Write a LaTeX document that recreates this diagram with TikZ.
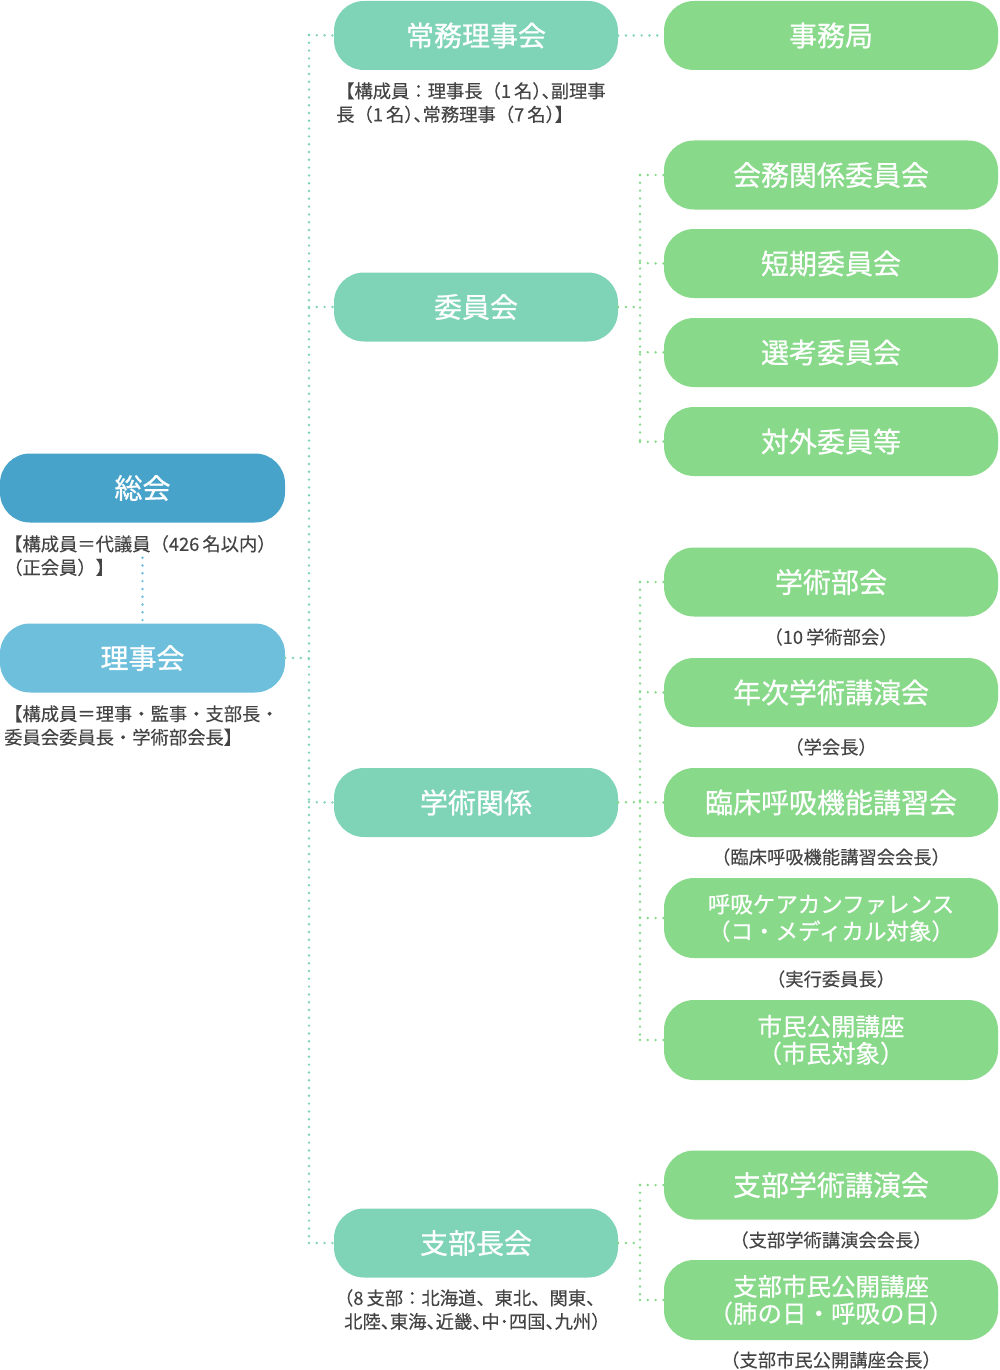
\documentclass[tikz,border=0pt]{standalone}
\usepackage{fontspec}
\setmainfont{Noto Sans CJK JP}
\newfontfamily\boxfont{Noto Sans CJK JP}[FakeBold=0.7]
\newfontfamily\capfont{Noto Sans CJK JP}[FakeBold=0.25]
\newfontfamily\capfonthalf{Noto Sans CJK JP}[FakeBold=0.25, RawFeature=+halt]
\newcommand{\hw}[1]{{\capfonthalf #1}}
\usetikzlibrary{calc}
\definecolor{csokai}{HTML}{47A3C9}
\definecolor{criji}{HTML}{6DBFDC}
\definecolor{cmid}{HTML}{7FD4B7}
\definecolor{cright}{HTML}{88D98A}
\definecolor{ctext}{HTML}{444444}
\tikzset{
  boxbase/.style={rounded corners=30pt, inner sep=0pt, minimum height=69pt, text=white, align=center, font=\boxfont\fontsize{28}{32}\selectfont},
  leftbox/.style={boxbase, minimum width=285pt},
  midbox/.style={boxbase, fill=cmid, minimum width=284pt},
  rightbox/.style={boxbase, fill=cright, minimum width=334pt},
  twoline/.style={minimum height=80pt, font=\boxfont\fontsize{24.5}{27}\selectfont},
  twolinek/.style={minimum height=80pt, font=\boxfont\fontsize{22.5}{27}\selectfont},
  caption/.style={text=ctext, inner sep=0pt, align=left, font=\capfont\fontsize{18.3}{23.5}\selectfont},
  ccaption/.style={text=ctext, inner sep=0pt, align=center, font=\capfont\fontsize{18.3}{23}\selectfont},
  dotline/.style={line width=2.7pt, line cap=round, dash pattern=on 0pt off 7.8pt},
  tealdot/.style={dotline, draw=cmid},
  greendot/.style={dotline, draw=cright},
  bluedot/.style={dotline, draw=criji},
}
\begin{document}
\begin{tikzpicture}[x=1pt,y=-1pt]
\useasboundingbox (0,0) rectangle (999,1370);
\coordinate (La) at (309,35);
\coordinate (Lb) at (309,307);
\coordinate (Lr) at (309,658);
\coordinate (Lc) at (309,802);
\coordinate (Ld) at (309,1243);
\coordinate (Ra1) at (640,175);
\coordinate (Ra2) at (640,263);
\coordinate (Ra3) at (640,352);
\coordinate (Ra4) at (640,442);
\coordinate (Ram) at (640,307);
\coordinate (Rb1) at (640,582);
\coordinate (Rb2) at (640,692);
\coordinate (Rb3) at (640,802);
\coordinate (Rb4) at (640,918);
\coordinate (Rb5) at (640,1040);
\coordinate (Rc1) at (640,1185);
\coordinate (Rcm) at (640,1243);
\coordinate (Rc2) at (640,1300);

% boxes
\node[leftbox, fill=csokai] (sokai) at (142.5,488) {総会};
\node[leftbox, fill=criji] (riji) at (142.5,658) {理事会};
\node[midbox] (jomu) at (476,35.5) {常務理事会};
\node[midbox] (iinkai) at (476,307) {委員会};
\node[midbox] (gakujutsu) at (476,802.5) {学術関係};
\node[midbox] (shibu) at (476,1243) {支部長会};

\node[rightbox] (jimu) at (831,35.5) {事務局};
\node[rightbox] (kaimu) at (831,175) {会務関係委員会};
\node[rightbox] (tanki) at (831,263.5) {短期委員会};
\node[rightbox] (senko) at (831,352.5) {選考委員会};
\node[rightbox] (taigai) at (831,441.5) {対外委員等};
\node[rightbox] (bukai) at (831,582) {学術部会};
\node[rightbox] (nenji) at (831,692.5) {年次学術講演会};
\node[rightbox] (rinsho) at (831,802.5) {臨床呼吸機能講習会};
\node[rightbox, twolinek] (care) at (831,918) {呼吸ケアカンファレンス\\（コ・メディカル対象）};
\node[rightbox, twoline] (shimin) at (831,1040) {市民公開講座\\（市民対象）};
\node[rightbox] (shibukoen) at (831,1185) {支部学術講演会};
\node[rightbox, twoline] (shibushimin) at (831,1300) {支部市民公開講座\\（肺の日・呼吸の日）};

% captions
\node[caption, anchor=north west] (capsokai) at (4,535) {【構成員＝代議員（426\,名以内）\\（正会員）】};
\node[caption, anchor=north west] (capriji) at (4,705) {【構成員＝理事・監事・支部長・\\委員会委員長・学術部会長】};
\node[caption, anchor=north west] (capjomu) at (336,82) {【構成員：理事長（1\,名\hw{）、}副理事\\長（1\,名\hw{）、}常務理事（7\,名\hw{）}】};
\node[caption, anchor=north west] (capshibu) at (344,1289) {\hw{（}8\,支部：北海道、東北、関東、\\北陸\hw{、}東海\hw{、}近畿\hw{、}中･四国\hw{、}九州）};
\node[ccaption] (capbukai) at (831,637) {（10\,学術部会）};
\node[ccaption] (capnenji) at (831,747) {（学会長）};
\node[ccaption] (caprinsho) at (831,857) {（臨床呼吸機能講習会会長）};
\node[ccaption] (capcare) at (831,979) {（実行委員長）};
\node[ccaption] (capshibukoen) at (831,1240) {（支部学術講演会会長）};
\node[ccaption] (capshibushimin) at (831,1360) {（支部市民公開講座会長）};

% dotted connectors
\draw[bluedot] ($(sokai.south)+(0,35)$) -- (riji.north);
\draw[tealdot] (La) -- (Ld);
\draw[tealdot] (riji.east) -- (Lr);
\draw[tealdot] (La) -- (jomu.west);
\draw[tealdot] (Lb) -- (iinkai.west);
\draw[tealdot] (Lc) -- (gakujutsu.west);
\draw[tealdot] (Ld) -- (shibu.west);
\draw[tealdot] (jomu.east) -- (jimu.west);

\draw[greendot] (Ra1) -- (Ra4);
\draw[greendot] (iinkai.east) -- (Ram);
\draw[greendot] (Ra1) -- (kaimu.west);
\draw[greendot] (Ra2) -- (tanki.west);
\draw[greendot] (Ra3) -- (senko.west);
\draw[greendot] (Ra4) -- (taigai.west);

\draw[greendot] (Rb1) -- (Rb5);
\draw[greendot] (gakujutsu.east) -- (Rb3);
\draw[greendot] (Rb1) -- (bukai.west);
\draw[greendot] (Rb2) -- (nenji.west);
\draw[greendot] (Rb3) -- (rinsho.west);
\draw[greendot] (Rb4) -- (care.west);
\draw[greendot] (Rb5) -- (shimin.west);

\draw[greendot] (Rc1) -- (Rc2);
\draw[greendot] (shibu.east) -- (Rcm);
\draw[greendot] (Rc1) -- (shibukoen.west);
\draw[greendot] (Rc2) -- (shibushimin.west);
\end{tikzpicture}
\end{document}
